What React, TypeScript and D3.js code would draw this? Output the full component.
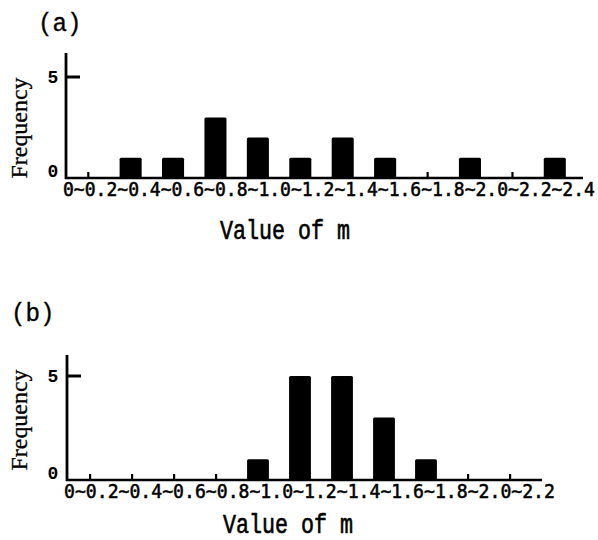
import React from "react";
import * as d3 from "d3";

// bin edges (tick labels) and counts
const edgesA = ["0", "0.2", "0.4", "0.6", "0.8", "1.0", "1.2", "1.4", "1.6", "1.8", "2.0", "2.2", "2.4"];
const countsA = [0, 1, 1, 3, 2, 1, 2, 1, 0, 1, 0, 1];

const edgesB = ["0", "0.2", "0.4", "0.6", "0.8", "1.0", "1.2", "1.4", "1.6", "1.8", "2.0", "2.2"];
const countsB = [0, 0, 0, 0, 1, 5, 5, 3, 1, 0, 0];

const yTicks = [0, 5];

const monoFont = "'Liberation Mono', 'DejaVu Sans Mono', monospace";

type PanelProps = {
  title: string;
  edges: string[];
  counts: number[];
  layout: {
    axisX: number;
    baseY: number;
    y5: number;
    axisTop: number;
    bandStart: number;
    bandEnd: number;
    lineEnd: number;
    labelX0: number;
    labelX1: number;
    labelY: number;
    xTitleX: number;
    xTitleY: number;
    titleX: number;
    titleY: number;
    freqY: number;
  };
};

const Panel = ({ title, edges, counts, layout: L }: PanelProps) => {
  const bins = edges.slice(0, -1).map((e, i) => `${e}~${edges[i + 1]}`);

  const x = d3
    .scaleBand<string>()
    .domain(bins)
    .range([L.bandStart, L.bandEnd])
    .paddingInner(0.48)
    .paddingOuter(0.24);

  const y = d3.scaleLinear().domain([0, 5]).range([L.baseY, L.y5]);

  const edgeLabel = edges.join("~");

  return (
    <g>
      {/* panel title */}
      <text
        transform={`translate(${L.titleX},${L.titleY}) scale(1.1,1.15)`}
        fontFamily={monoFont}
        fontSize={22}
        fill="#000"
        stroke="#000"
        strokeWidth={0.3}
      >
        {title}
      </text>

      {/* bars; empty bins get a small mark */}
      {counts.map((c, i) =>
        c > 0 ? (
          <rect
            key={i}
            x={x(bins[i])}
            y={y(c)}
            width={x.bandwidth()}
            height={y(0) - y(c)}
            rx={1.5}
            fill="#000"
          />
        ) : (
          <rect
            key={i}
            x={(x(bins[i]) as number) + x.bandwidth() / 2 - 1}
            y={y(0) - 6}
            width={2.2}
            height={6}
            fill="#000"
          />
        )
      )}

      {/* axes */}
      <line x1={L.axisX} x2={L.axisX} y1={L.axisTop} y2={L.baseY + 1} stroke="#000" strokeWidth={2.8} />
      <line x1={L.axisX - 1} x2={L.lineEnd} y1={L.baseY} y2={L.baseY} stroke="#000" strokeWidth={2.6} />

      {yTicks.map((t) => (
        <g key={t}>
          {t > 0 && (
            <line x1={L.axisX} x2={L.axisX + 14} y1={y(t)} y2={y(t)} stroke="#000" strokeWidth={3} />
          )}
          <text
            x={53}
            y={Math.min(y(t) + 6, L.baseY - 1)}
            textAnchor="middle"
            fontFamily={monoFont}
            fontSize={18}
            fontWeight="bold"
            fill="#000"
          >
            {t}
          </text>
        </g>
      ))}

      {/* bin edge labels, sized so the string spans labelX0..labelX1 */}
      <text
        transform={`translate(${L.labelX0},${L.labelY}) scale(1,1.08)`}
        fontFamily="'DejaVu Sans Mono', monospace"
        fontSize={(L.labelX1 - L.labelX0) / (edgeLabel.length * 0.602)}
        stroke="#000"
        strokeWidth={0.5}
        fill="#000"
      >
        {edgeLabel}
      </text>

      {/* axis titles */}
      <text
        transform={`translate(${L.xTitleX},${L.xTitleY}) scale(1,1.25)`}
        fontFamily={monoFont}
        fontSize={22}
        stroke="#000"
        strokeWidth={0.5}
        textLength={130}
        lengthAdjust="spacingAndGlyphs"
        fill="#000"
      >
        Value of m
      </text>
      <text
        transform={`translate(27,${L.freqY}) rotate(-90)`}
        textAnchor="middle"
        fontFamily="'Liberation Serif', 'DejaVu Serif', serif"
        fontSize={24}
        stroke="#000"
        strokeWidth={0.3}
        textLength={101}
        lengthAdjust="spacingAndGlyphs"
        fill="#000"
      >
        Frequency
      </text>
    </g>
  );
};

const App = () => {
  return (
    <svg
      width={598}
      height={540}
      style={{ position: "absolute", left: 0, top: 0, background: "#fff" }}
    >
      <rect width={598} height={540} fill="#fff" />
      <Panel
        title="(a)"
        edges={edgesA}
        counts={countsA}
        layout={{
          axisX: 66,
          baseY: 178,
          y5: 77,
          axisTop: 53,
          bandStart: 67,
          bandEnd: 576,
          lineEnd: 583,
          labelX0: 63,
          labelX1: 595,
          labelY: 196,
          xTitleX: 220,
          xTitleY: 239,
          titleX: 38,
          titleY: 31,
          freqY: 128,
        }}
      />
      <Panel
        title="(b)"
        edges={edgesB}
        counts={countsB}
        layout={{
          axisX: 67,
          baseY: 480,
          y5: 376,
          axisTop: 355,
          bandStart: 69,
          bandEnd: 531,
          lineEnd: 542,
          labelX0: 64,
          labelX1: 555,
          labelY: 498,
          xTitleX: 223,
          xTitleY: 533,
          titleX: 11,
          titleY: 321,
          freqY: 420,
        }}
      />
    </svg>
  );
};

export default App;
